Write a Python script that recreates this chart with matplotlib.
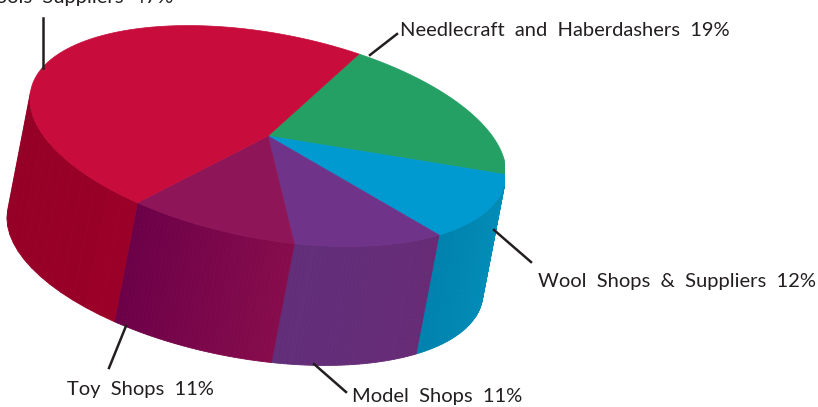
import numpy as np
import matplotlib
matplotlib.use('Agg')
import matplotlib.pyplot as plt
from matplotlib.patches import Rectangle

# slices, clockwise starting at the green one
labels = ['Needlecraft  and  Haberdashers  19%', 'Wool  Shops  &  Suppliers  12%', 'Model  Shops  11%',
          'Toy  Shops  11%', 'Tools  Suppliers  47%']
shares = [19, 12, 11, 11, 47]
top_colors = ['#24A064', '#0099D0', '#70338A', '#8E1658', '#C80D3C']
side_dark = ['#1A7A4C', '#0082AE', '#622E7A', '#6C0048', '#8A0022']
side_light = ['#1A7A4C', '#0090BA', '#672B76', '#860C4C', '#9A0028']

plt.rcParams['font.family'] = ['Lato', 'DejaVu Sans']

fig = plt.figure(figsize=(8.18, 4.07), dpi=100)
ax = fig.add_axes([0, 0, 1, 1])
ax.set_xlim(0, 818)
ax.set_ylim(407, 0)
ax.axis('off')

# the disc is a sheared ellipse, pushed down by depth for the side wall
center = np.array([268, 136])
u = np.array([91, -82])
w = np.array([220, 74])
depth = np.array([-23, 119])
clip = Rectangle((0, 0), 505, 407, transform=ax.transData)


def rim(t):
    t = np.asarray(t)
    return center + np.outer(np.cos(t), u) + np.outer(np.sin(t), w)


edges = np.cumsum([0] + shares) / 100 * 2 * np.pi

# side wall first
for i in range(len(shares)):
    ts = np.linspace(edges[i], edges[i + 1], 40)
    for k in range(len(ts) - 1):
        a, b = ts[k], ts[k + 1]
        m = (a + b) / 2
        d = -u * np.sin(m) + w * np.cos(m)
        if d[0] * depth[1] - d[1] * depth[0] >= 0:
            continue
        f = k / (len(ts) - 2)
        c1 = np.array(matplotlib.colors.to_rgb(side_dark[i]))
        c2 = np.array(matplotlib.colors.to_rgb(side_light[i]))
        # dark end sits on the left of the slice on screen
        col = c1 + (c2 - c1) * (1 - f)
        p = rim([a, b])
        quad = np.vstack([p, p[::-1] + depth])
        poly = ax.fill(quad[:, 0], quad[:, 1], color=col, lw=0.6)[0]
        poly.set_clip_path(clip)

# top face
for i in range(len(shares)):
    ts = np.linspace(edges[i], edges[i + 1], 80)
    p = np.vstack([center, rim(ts)])
    poly = ax.fill(p[:, 0], p[:, 1], color=top_colors[i], lw=0.5)[0]
    poly.set_clip_path(clip)

# leader lines
ink = '#231F20'
ax.plot([43, 43], [18, 68], color=ink, lw=1.8)
ax.plot([370, 397], [55, 34], color=ink, lw=1.8)
ax.plot([494, 531], [230, 262], color=ink, lw=1.8)
ax.plot([126, 109], [326, 368], color=ink, lw=1.8)
ax.plot([314, 346], [364, 392], color=ink, lw=1.8)

size = 14.5
ax.text(400, 36, labels[0], color=ink, fontsize=size, ha='left', va='baseline')
ax.text(538, 287, labels[1], color=ink, fontsize=size, ha='left', va='baseline')
ax.text(352, 402, labels[2], color=ink, fontsize=size, ha='left', va='baseline')
ax.text(67, 395, labels[3], color=ink, fontsize=size, ha='left', va='baseline')
ax.text(173, 3, labels[4], color=ink, fontsize=size, ha='right', va='baseline')

fig.savefig('out.png', dpi=100)
